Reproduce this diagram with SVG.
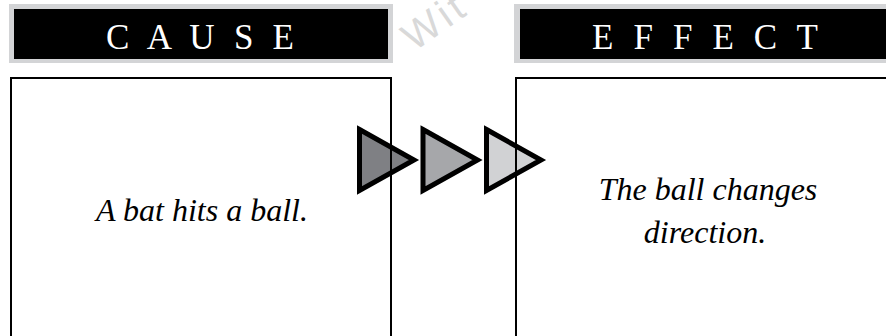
<svg xmlns="http://www.w3.org/2000/svg" width="886" height="336" viewBox="0 0 886 336">
<style>
.frame{fill:#d3d4d6}
.band{fill:#000}
.head{font-family:"Liberation Serif","Times New Roman",serif;font-size:35px;fill:#fff;text-anchor:middle}
.box{fill:none;stroke:#000;stroke-width:2}
.body{font-family:"Liberation Serif","Times New Roman",serif;font-style:italic;font-size:32px;fill:#000;text-anchor:middle}
.arr{stroke:#000;stroke-width:5;stroke-linejoin:miter}
.wm{font-family:"Liberation Sans",Arial,sans-serif;font-size:40px;letter-spacing:4px;fill:#d9d9d9}
</style>
<rect width="886" height="336" fill="#fff"/>
<text class="wm" transform="translate(414,52) rotate(-35)">Wit</text>
<g id="cause-header">
<rect class="frame" x="9" y="4" width="384" height="59"/>
<rect class="band" x="14" y="9" width="374" height="50"/>
<text class="head" x="200" y="49" textLength="188" lengthAdjust="spacing">C A U S E</text>
</g>
<g id="effect-header">
<rect class="frame" x="514" y="4" width="400" height="59"/>
<rect class="band" x="520" y="9" width="400" height="50"/>
<text class="head" x="705" y="49" textLength="226" lengthAdjust="spacing">E F F E C T</text>
</g>
<g id="connectors">
<polygon class="arr" fill="#7f8084" points="359.5,129.5 414,160 359.5,190.5"/>
<polygon class="arr" fill="#a6a7aa" points="423,129.5 477.5,160 423,190.5"/>
<polygon class="arr" fill="#d1d2d4" points="486.5,129.5 541,160 486.5,190.5"/>
</g>
<g id="cause-box">
<rect class="box" x="11" y="78" width="380" height="300"/>
<text class="body" x="202" y="221">A bat hits a ball.</text>
</g>
<g id="effect-box">
<rect class="box" x="516" y="78" width="400" height="300"/>
<text class="body" x="708" y="200">The ball changes</text>
<text class="body" x="705" y="243">direction.</text>
</g>
</svg>
